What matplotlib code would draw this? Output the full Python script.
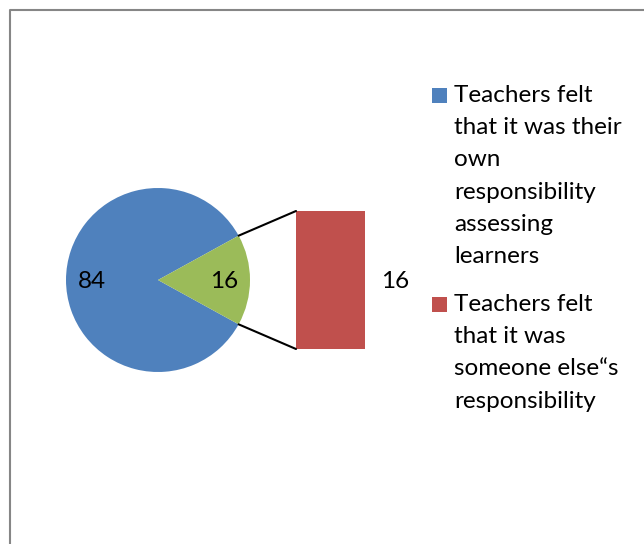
import numpy as np
import matplotlib.pyplot as plt
from matplotlib.patches import Rectangle, ConnectionPatch

labels = ["Teachers felt\nthat it was their\nown\nresponsibility\nassessing\nlearners",
          "Teachers felt\nthat it was\nsomeone else\u201cs\nresponsibility"]
pie_values = [84, 16]
bar_values = [16]

blue = "#4f81bd"
green = "#9bbb59"
red = "#c0504d"

plt.rcParams['font.family'] = ['Lato', 'DejaVu Sans']
FS = 17.5

fig = plt.figure(figsize=(6.44, 5.44), dpi=100)
W, H = 644, 544

# main axes in pixel units
ax = fig.add_axes([0, 0, 1, 1])

cx, cy, r = 158, H - 280, 92
half = pie_values[1] / sum(pie_values) * 360 / 2
wedges, _ = ax.pie(pie_values, colors=[blue, green], startangle=half,
                   center=(cx, cy), radius=r, frame=True,
                   wedgeprops=dict(linewidth=0))
ax.set_xlim(0, W)
ax.set_ylim(0, H)
ax.set_aspect('equal')
ax.axis('off')

# chart border
ax.plot([10, 10, W + 5], [-5, H - 10, H - 10], color='#868686', lw=1.5)

ax.text(92, H - 281, str(pie_values[0]), fontsize=FS, ha='center', va='center')
ax.text(224, H - 281, str(pie_values[1]), fontsize=FS, ha='center', va='center')

# bar of the "other" part
bx = fig.add_axes([296 / W, (H - 349) / H, 69 / W, 138 / H])
bx.bar([0], bar_values, width=1, color=red)
bx.set_xlim(-0.5, 0.5)
bx.set_ylim(0, sum(bar_values))
bx.axis('off')
ax.text(395, H - 281, str(bar_values[0]), fontsize=FS, ha='center', va='center')

# connector lines from wedge edges to bar corners
w = wedges[1]
for ang, by in [(w.theta2, 1), (w.theta1, 0)]:
    px = cx + r * np.cos(np.radians(ang))
    py = cy + r * np.sin(np.radians(ang))
    con = ConnectionPatch(xyA=(px, py), coordsA=ax.transData,
                          xyB=(0, by), coordsB=bx.transAxes,
                          color='black', lw=1.5)
    fig.add_artist(con)

# legend, drawn by hand so the squares sit on the first line
for lab, col, ty in zip(labels, [blue, red], [95, 304]):
    ax.add_patch(Rectangle((432, H - ty - 7.5), 15, 15, color=col, lw=0))
    ax.text(454, H - ty + 10, lab, fontsize=FS, ha='left', va='top',
            linespacing=1.66)

fig.savefig('out.png', dpi=100, facecolor='white')
